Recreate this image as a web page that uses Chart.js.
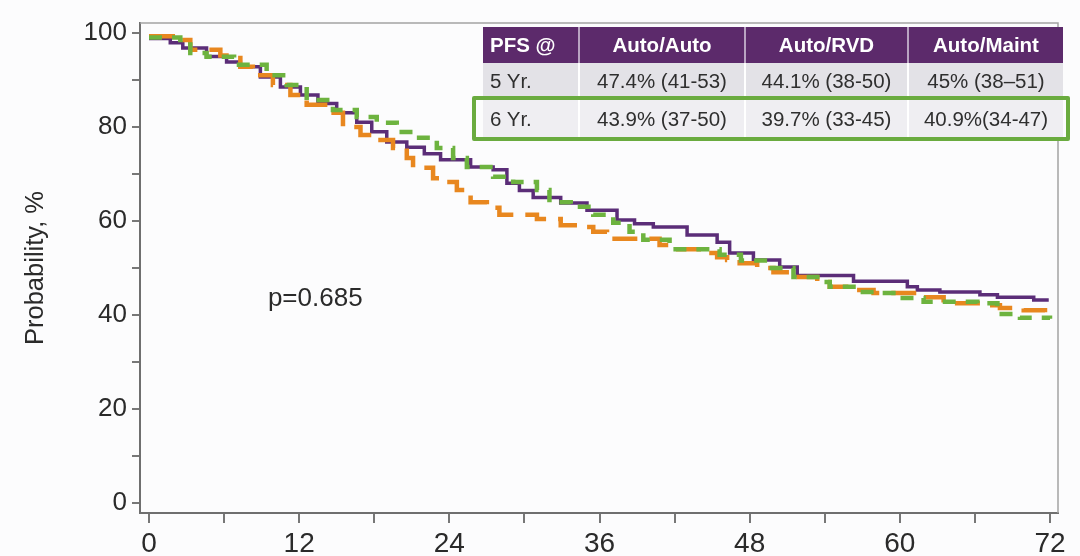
<!DOCTYPE html>
<html>
<head>
<meta charset="utf-8">
<script src="https://cdn.jsdelivr.net/npm/chart.js@4.4.1/dist/chart.umd.min.js"></script>
<style>
html, body { margin: 0; padding: 0; background: #fcfcfd; }
#contenedor { position: relative; width: 1080px; height: 556px; overflow: hidden; }
#myChart { position: absolute; left: 0; top: 0; }
#tabla { position: absolute; left: 483px; top: 27px; border-collapse: collapse; table-layout: fixed;
  font-family: "Liberation Sans", Arial, sans-serif; font-size: 20.5px; color: #2f2f2f; }
#tabla th { background: #5c2a6b; color: #fff; font-weight: bold; font-size: 20.5px; height: 36px; padding: 0;
  border-left: 2px solid #b9a3c2; }
#tabla td { height: 36px; padding: 0; text-align: center; border-left: 2px solid #fff; white-space: nowrap; }
#tabla th:first-child, #tabla td:first-child { text-align: left; padding-left: 7px; border-left: none; }
#tabla tr.fila5 td { background: #e3e2e7; }
#tabla tr.fila6 td { background: #efeef2; height: 38px; border-top: 1px solid #fff; }
#marco { position: absolute; left: 472px; top: 96px; width: 590px; height: 37px; border: 4px solid #6aab3f; border-radius: 2px; }
</style>
</head>
<body>
<div id="contenedor">
  <canvas id="myChart" width="1080" height="556"></canvas>
  <table id="tabla"></table>
  <div id="marco"></div>
</div>
<script>
// columnas y filas de la tabla PFS
const encabezados = ["PFS @", "Auto/Auto", "Auto/RVD", "Auto/Maint"];
const filaCincoAnios = ["5 Yr.", "47.4% (41-53)", "44.1% (38-50)", "45% (38\u201351)"];
const filaSeisAnios = ["6 Yr.", "43.9% (37-50)", "39.7% (33-45)", "40.9%(34-47)"];
const anchosColumnas = [96, 166, 163, 155];

// curvas Kaplan-Meier (meses, probabilidad %)
const mesesAutoAuto = [0, 1.7, 2.7, 4.6, 6.2, 7.3, 8.9, 10.5, 12.1, 13.5, 15, 16.6, 17.8, 19, 20.6, 22, 23.3, 25.7, 27.5, 28.6, 29.6, 30.7, 32.9, 35, 37.4, 38.8, 40.3, 43, 45.4, 46.4, 48.3, 50.4, 51.8, 56.3, 60.6, 61.4, 63.2, 66.4, 67.8, 70.7, 71.9];
const probAutoAuto = [98.8, 97.9, 96.8, 95, 93.8, 92.8, 90.6, 88.5, 86.8, 85, 83, 81, 79, 76.8, 75.7, 74.3, 73, 71.5, 70.9, 68, 66.5, 65, 63.8, 62.3, 60.2, 59.4, 58.7, 57, 55.5, 53.2, 51.7, 50.2, 48.4, 47.2, 46, 45.3, 44.9, 44.3, 43.8, 43.2, 43.2];

const mesesAutoMaint = [0, 1.9, 3.3, 5.7, 7.3, 8.3, 9.9, 11.3, 12.6, 14.5, 15.5, 16.9, 18.5, 19.5, 20.6, 21.1, 22.7, 23.8, 24.6, 25.7, 27, 28, 31, 32.9, 34.2, 35.5, 36.6, 40.8, 41.9, 44.3, 45.4, 46.2, 47.2, 48.6, 49.9, 51.5, 53.4, 54.4, 56, 57.9, 61.9, 63.5, 66.4, 68, 69.9, 71.6, 72];
const probAutoMaint = [99.3, 98.5, 96.4, 95.2, 92.8, 91, 88.9, 86.8, 84.7, 83, 80, 78.3, 77.2, 75.5, 73.4, 71.3, 69.1, 68.3, 66.6, 64, 62.8, 61.3, 60.4, 59.1, 58.7, 57.7, 56.2, 54.9, 54, 53.2, 52.3, 51.7, 51, 50, 49.1, 48.1, 47, 46, 45.3, 44.7, 43.8, 42.5, 42.1, 41.5, 41, 40.4, 40.4];

const mesesAutoRVD = [0, 2.5, 3.3, 4.6, 6.8, 9.4, 11, 12.6, 14.7, 16.6, 18.2, 19.8, 21.4, 23, 24.3, 25.4, 27.5, 29.1, 31, 32, 33.7, 35.5, 37.1, 38.4, 39.5, 41.6, 45.6, 47.3, 49.5, 51.5, 53.4, 54.4, 56.3, 58.2, 60, 61.9, 66.2, 67.8, 69.6, 72];
const probAutoRVD = [99, 98.5, 95.7, 94.9, 93.2, 91, 88.9, 85.7, 83.6, 82.1, 80.9, 78.9, 77.7, 75.5, 73.4, 71.5, 69.4, 68.3, 66.6, 64, 63, 61.3, 59.6, 57.7, 56, 54, 52.8, 51.6, 50, 48.1, 47, 46, 44.9, 44.7, 43.6, 42.8, 42.5, 40.2, 39.4, 39.2];

// marcas de los ejes
const marcasX = [0, 6, 12, 18, 24, 30, 36, 42, 48, 54, 60, 66, 72];
const marcasY = [0, 10, 20, 30, 40, 50, 60, 70, 80, 90, 100];
const textoP = "p=0.685";

const tabla = document.querySelector("#tabla");
let plantilla = "<colgroup>" + anchosColumnas.map((w) => `<col style="width:${w}px">`).join("") + "</colgroup>";
plantilla += "<tr>" + encabezados.map((h) => `<th>${h}</th>`).join("") + "</tr>";
plantilla += `<tr class="fila5">` + filaCincoAnios.map((c) => `<td>${c}</td>`).join("") + "</tr>";
plantilla += `<tr class="fila6">` + filaSeisAnios.map((c) => `<td>${c}</td>`).join("") + "</tr>";
tabla.innerHTML = plantilla;

const puntos = (meses, prob) => meses.map((m, i) => ({ x: m, y: prob[i] }));

const marcoGrafica = {
    id: "marcoGrafica",
    beforeDatasetsDraw(chart) {
        const { ctx, chartArea: a } = chart;
        ctx.save();
        ctx.strokeStyle = "#a3a3a3";
        ctx.lineWidth = 1.5;
        ctx.beginPath();
        ctx.moveTo(a.left, a.top);
        ctx.lineTo(a.right, a.top);
        ctx.lineTo(a.right, a.bottom);
        ctx.stroke();
        ctx.restore();
    },
    afterDatasetsDraw(chart) {
        const { ctx, scales } = chart;
        ctx.save();
        ctx.fillStyle = "#2a2a2a";
        ctx.font = "26px 'Liberation Sans', Arial, sans-serif";
        ctx.textBaseline = "alphabetic";
        ctx.fillText(textoP, scales.x.getPixelForValue(9.5), scales.y.getPixelForValue(42.0));
        ctx.restore();
    },
};

const myChart = new Chart("myChart", {
    type: "line",
    data: {
        datasets: [
            {
                label: "Auto/RVD",
                data: puntos(mesesAutoRVD, probAutoRVD),
                borderColor: "#6db33f",
                borderWidth: 4.5,
                borderDash: [13, 10],
                stepped: "before",
                pointRadius: 0,
            },
            {
                label: "Auto/Maint",
                data: puntos(mesesAutoMaint, probAutoMaint),
                borderColor: "#e8871f",
                borderWidth: 4.5,
                borderDash: [25, 12],
                stepped: "before",
                pointRadius: 0,
            },
            {
                label: "Auto/Auto",
                data: puntos(mesesAutoAuto, probAutoAuto),
                borderColor: "#5b2d78",
                borderWidth: 3.5,
                stepped: "before",
                pointRadius: 0,
            },
        ],
    },
    options: {
        responsive: false,
        animation: false,
        layout: { padding: { top: 23, right: 22, left: 0, bottom: 0 } },
        plugins: { legend: { display: false }, tooltip: { enabled: false } },
        scales: {
            x: {
                type: "linear",
                min: -0.72,
                max: 72.64,
                afterBuildTicks: (s) => { s.ticks = marcasX.map((v) => ({ value: v })); },
                afterFit: (s) => { s.height = 43; },
                grid: { drawOnChartArea: false, drawTicks: true, tickLength: 10, color: "#777", lineWidth: 2 },
                border: { color: "#6f6f6f", width: 2 },
                ticks: {
                    autoSkip: false,
                    maxRotation: 0,
                    padding: 4,
                    color: "#2a2a2a",
                    font: { family: "'Liberation Sans', Arial", size: 28 },
                    callback: (v) => (v % 12 === 0 ? v : ""),
                },
            },
            y: {
                min: -2.1,
                max: 102.1,
                afterBuildTicks: (s) => { s.ticks = marcasY.map((v) => ({ value: v })); },
                afterFit: (s) => { s.width = 140; },
                grid: { drawOnChartArea: false, drawTicks: true, tickLength: 8, color: "#777", lineWidth: 2 },
                border: { color: "#6f6f6f", width: 2 },
                ticks: {
                    autoSkip: false,
                    padding: 5,
                    color: "#2a2a2a",
                    font: { family: "'Liberation Sans', Arial", size: 26 },
                    callback: (v) => (v % 20 === 0 ? v : ""),
                },
                title: {
                    display: true,
                    text: "Probability, %",
                    color: "#2a2a2a",
                    padding: { top: 21, bottom: 0 },
                    font: { family: "'Liberation Sans', Arial", size: 25.5 },
                },
            },
        },
    },
    plugins: [marcoGrafica],
});
</script>
</body>
</html>
